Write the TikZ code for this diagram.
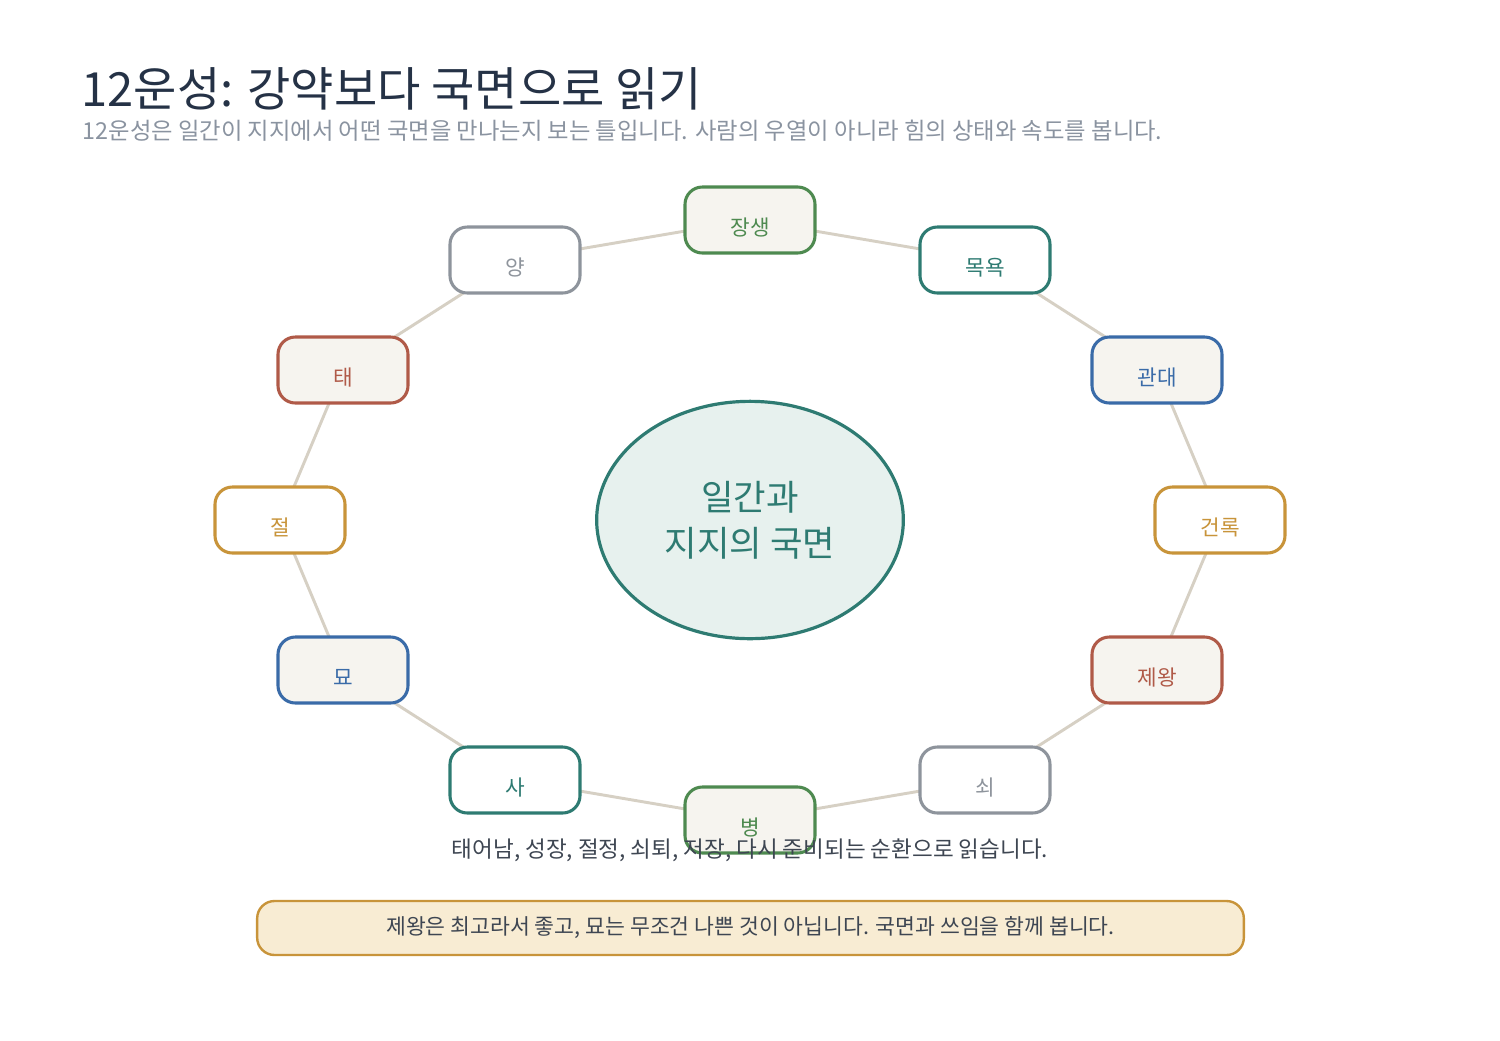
\documentclass[tikz,border=0pt]{standalone}
\usepackage{fontspec}
\setmainfont{Noto Sans CJK KR}
\usetikzlibrary{backgrounds,shapes.geometric}
\definecolor{ink}{HTML}{253246}
\definecolor{subgray}{HTML}{8A93A0}
\definecolor{cgreen}{HTML}{4E8A50}
\definecolor{cteal}{HTML}{2E7B72}
\definecolor{cblue}{HTML}{3A6BA8}
\definecolor{cgold}{HTML}{C8943A}
\definecolor{cred}{HTML}{B05A48}
\definecolor{cgray}{HTML}{8E949C}
\definecolor{paper}{HTML}{F6F4EF}
\definecolor{mint}{HTML}{E7F1EE}
\definecolor{ringline}{HTML}{D6D0C4}
\definecolor{notefill}{HTML}{F8ECD3}
\definecolor{bodyink}{HTML}{3E4652}
\begin{document}
\begin{tikzpicture}[x=0.75pt,y=-0.75pt,
    stage/.style={draw,line width=2.3pt,rounded corners=13pt,minimum width=97.5pt,minimum height=49.5pt,fill=white,text height=23.5pt,text depth=1pt,font=\fontsize{16}{18}\selectfont},
    full/.style={fill=paper},
    ring/.style={ringline,line width=2.2pt}]
    \useasboundingbox (0,0) rectangle (1500,1040);
    \node[anchor=base west,text=ink,font=\fontsize{35.3}{40}\selectfont] (title) at (77,106) {12운성: 강약보다 국면으로 읽기};
    \node[anchor=base west,text=subgray,font=\fontsize{17.5}{20}\selectfont] (sub) at (78,139) {12운성은 일간이 지지에서 어떤 국면을 만나는지 보는 틀입니다. 사람의 우열이 아니라 힘의 상태와 속도를 봅니다.};
    \node[draw=cteal,fill=mint,line width=2.4pt,ellipse,minimum width=230pt,minimum height=178pt,align=center,text=cteal,font=\fontsize{26.5}{34.5}\selectfont] (core) at (750,520) {일간과\\지지의 국면};
    \node[stage,full,draw=cgreen,text=cgreen] (jangsaeng) at (750,220) {장생};
    \node[stage,draw=cteal,text=cteal] (mogyok) at (985,260) {목욕};
    \node[stage,full,draw=cblue,text=cblue] (gwandae) at (1157,370) {관대};
    \node[stage,draw=cgold,text=cgold] (geonrok) at (1220,520) {건록};
    \node[stage,full,draw=cred,text=cred] (jewang) at (1157,670) {제왕};
    \node[stage,draw=cgray,text=cgray] (soe) at (985,780) {쇠};
    \node[stage,full,draw=cgreen,text=cgreen] (byeong) at (750,820) {병};
    \node[stage,draw=cteal,text=cteal] (sa) at (515,780) {사};
    \node[stage,full,draw=cblue,text=cblue] (myo) at (343,670) {묘};
    \node[stage,draw=cgold,text=cgold] (jeol) at (280,520) {절};
    \node[stage,full,draw=cred,text=cred] (tae) at (343,370) {태};
    \node[stage,draw=cgray,text=cgray] (yang) at (515,260) {양};
    \begin{scope}[on background layer]
        \draw[ring] (jangsaeng.center) -- (mogyok.center) -- (gwandae.center) -- (geonrok.center) -- (jewang.center) -- (soe.center) -- (byeong.center);
        \draw[ring] (byeong.center) -- (sa.center) -- (myo.center) -- (jeol.center) -- (tae.center) -- (yang.center) -- (jangsaeng.center);
    \end{scope}
    \node[anchor=base,text=bodyink,font=\fontsize{16.9}{20}\selectfont] (cycle) at (750,857) {태어남, 성장, 절정, 쇠퇴, 저장, 다시 준비되는 순환으로 읽습니다.};
    \node[draw=cgold,fill=notefill,line width=1.8pt,rounded corners=13pt,minimum width=740pt,minimum height=40.5pt,text=bodyink,font=\fontsize{16.2}{18}\selectfont] (note) at (750.5,928) {제왕은 최고라서 좋고, 묘는 무조건 나쁜 것이 아닙니다. 국면과 쓰임을 함께 봅니다.};
\end{tikzpicture}
\end{document}
